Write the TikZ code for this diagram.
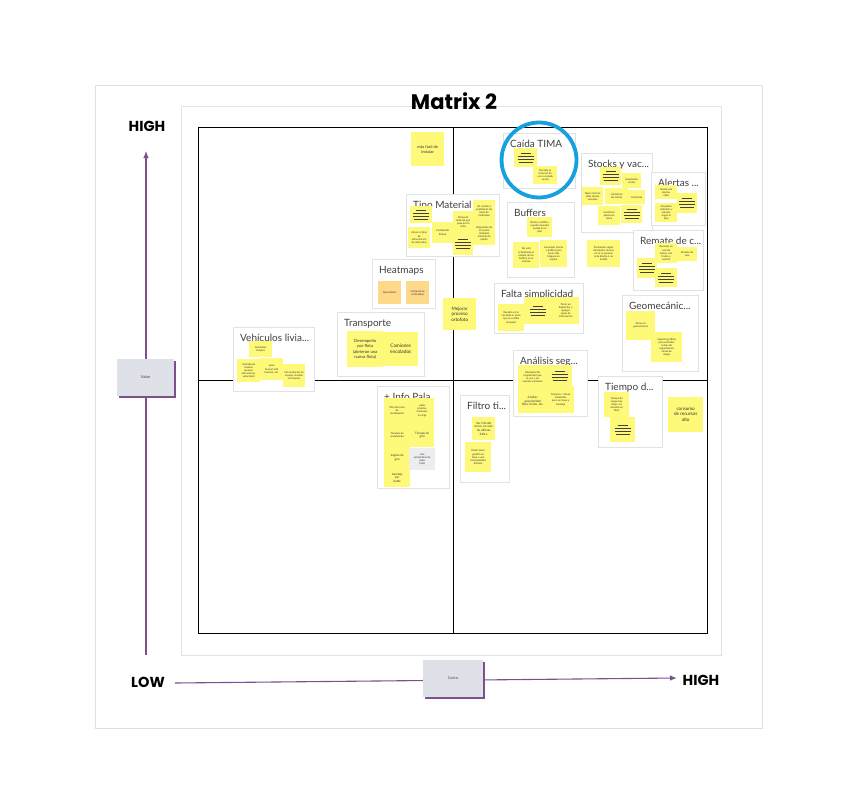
\documentclass[tikz,border=0pt]{standalone}
\usepackage{fontspec}
\setmainfont{Lato}
\newfontfamily\headfont{Poppins}
\usetikzlibrary{positioning,shadows,arrows.meta}

\definecolor{axispurple}{RGB}{125,80,140}
\definecolor{boxgrey}{RGB}{222,225,231}
\definecolor{stickyyellow}{RGB}{255,249,122}
\definecolor{stickyorange}{RGB}{255,217,138}
\definecolor{notegrey}{RGB}{237,237,239}
\definecolor{framegrey}{RGB}{226,226,229}
\definecolor{outerlav}{RGB}{226,220,236}
\definecolor{ringblue}{RGB}{22,160,224}

\tikzset{
  sticky/.style={fill=stickyyellow, anchor=north west, inner sep=0.5pt, align=center,
    font=\fontsize{2.6}{3.1}\selectfont, text=black!80},
  orange/.style={sticky, fill=stickyorange},
  greynote/.style={sticky, fill=notegrey},
  groupbox/.style={draw=framegrey, fill=white, line width=0.8pt, anchor=north west, inner sep=0pt},
  grouptitle/.style={anchor=base west, inner sep=0pt, text=black!75, font=\fontsize{10}{12}\selectfont},
  axisbox/.style={fill=boxgrey, inner sep=0pt, font=\fontsize{4}{5}\selectfont, text=black!70,
    general shadow={fill=axispurple, shadow xshift=2pt, shadow yshift=-2pt}},
  axislabel/.style={inner sep=0pt, font=\headfont\bfseries\fontsize{14.5}{16}\selectfont},
  axis/.style={axispurple, line width=1.1pt}
}

% sticky note: [style](name)(x,y of top left)(width,height){text}
\def\note[#1](#2)(#3,#4)(#5,#6)#7{\node[#1, minimum width=#5pt, minimum height=#6pt] (#2) at (#3,#4) {#7};}
% frame of a cluster, with its title
\def\group(#1)(#2,#3)(#4,#5)#6{\node[groupbox, minimum width=#4pt, minimum height=#5pt] (#1) at (#2,#3) {};
  \node[grouptitle] (#1T) at ([shift={(7pt,-14pt)}]#1.north west) {#6};}
% sticky filled with lines of text too small to read
\def\textlines#1{\foreach \dy/\hw in {-4.5/7,-1.5/8,1.5/8,4.5/5}
  {\draw[line width=0.55pt, black!75] ([shift={(-\hw pt,\dy pt)}]#1.center) -- ([shift={(\hw pt,\dy pt)}]#1.center);}}

\begin{document}
\begin{tikzpicture}[x=1pt, y=-1pt]
\useasboundingbox (0,0) rectangle (868,811);

% outer board and panel
\node[draw=outerlav, line width=0.8pt, anchor=north west, minimum width=667pt, minimum height=643pt, inner sep=0pt] (board) at (95,85) {};
\node[draw=framegrey, fill=white, line width=0.8pt, anchor=north west, minimum width=540pt, minimum height=549pt, inner sep=0pt] (panel) at (181,106) {};
\node[inner sep=0pt, font=\headfont\bfseries\fontsize{21}{23}\selectfont] (title) at (454,101) {Matrix 2};

% quadrants
\node[draw, line width=1.3pt, anchor=north west, minimum width=509pt, minimum height=506pt, inner sep=0pt] (mat) at (198,127) {};
\draw[line width=1.1pt] (mat.north) -- (mat.south);
\draw[line width=1.1pt] (mat.west) -- (mat.east);

% axes
\coordinate (ylo) at (146,655);
\coordinate (yhi) at (146,151);
\draw[axis, ->, >={Latex[length=7pt,width=5.5pt]}] (ylo) -- (yhi);
\node[axisbox, minimum width=57pt, minimum height=37pt] (val) at (145.5,377.5) {Value};
\coordinate (xlo) at (175,683);
\coordinate (xhi) at (677,678);
\draw[axis, ->, >={Latex[length=7pt,width=5.5pt]}] (xlo) -- (xhi);
\node[axisbox, minimum width=60pt, minimum height=37pt] (cost) at (453,678.5) {Costo};
\node[axislabel] (yHigh) at (147,126) {HIGH};
\node[axislabel] (xLow) at (148,682) {LOW};
\node[axislabel] (xHigh) at (701,680) {HIGH};

% loose stickies
\note[sticky, font=\fontsize{4}{5}\selectfont](install)(411,132)(33,34){más fácil de\\instalar}
\note[sticky, font=\fontsize{4.6}{5.8}\selectfont](orto)(443,298)(33,32){Mejorar\\proceso\\ortofoto}
\note[sticky](forma)(587,240)(33,27){Formación según\\del diseño minero,\\ver si se parecen\\este diseño o no\\(malla)}
\note[sticky, font=\fontsize{4.6}{5.8}\selectfont](consumo)(668,397)(35,35){consumo\\de recursos\\alto}

% Caida TIMA
\group(caida)(503,133)(72,55){Caída TIMA}
\note[sticky](cA)(514,148)(23,19){} \textlines{cA}
\note[sticky](cB)(533,166)(24,18){Durante el\\turno (al fin\\ver un estado\\vacío)}
\draw[ringblue, line width=3.8pt] (539,160) circle (37.5);

% Stocks
\group(stock)(581,153)(71,79){Stocks y vac...}
\note[sticky](s1)(600,167)(21,18){} \textlines{s1}
\note[sticky](s2)(622,173)(19,15){Aceptación\\vacíos}
\note[sticky](s3)(582,187)(21,18){Bajar nivel de\\pilas (stock)\\vaciadas}
\note[sticky](s4)(605,188)(23,16){control de\\los stocks}
\note[sticky](s5)(628,190)(17,14){Activarlos}
\note[sticky](s6)(598,206)(22,19){Gestionar\\plazos de\\stock}
\note[sticky](s7)(621,205)(21,18){} \textlines{s7}

% Alertas
\group(alert)(651,172)(54,53){Alertas ...}
\note[sticky](a1)(655,185)(22,14){Niveles de\\alarma,\\mails}
\note[sticky](a2)(677,193)(20,20){} \textlines{a2}
\note[sticky](a3)(655,203)(22,19){Actualizar\\umbrales y\\alarmas\\según el\\plan}

% Remate
\group(remate)(633,230)(70,60){Remate de c...}
\note[sticky](r1)(655,243)(22,20){Remates en\\cola de\\banco, con\\frente y\\control}
\note[sticky](r2)(677,247)(20,14){Remate de\\sala}
\note[sticky](r3)(637,258)(20,20){} \textlines{r3}
\note[sticky](r4)(655,268)(22,19){} \textlines{r4}

% Buffers
\group(buff)(507,202)(67,75){Buffers}
\note[sticky](b1)(527,217)(25,20){Stocks y buffers,\\cuando necesitó\\la pala en el\\plan}
\note[sticky](b2)(513,242)(26,26){No está\\actualizado el\\estado de los\\buffers en el\\sistema}
\note[sticky](b3)(540,240)(27,27){Aumentar stocks\\y buffers para\\tener más\\holgura en\\espera}

% Tipo Material
\group(tipo)(406,194)(93,62){Tipo Material}
\note[sticky](t1)(410,206)(22,17){} \textlines{t1}
\note[sticky](t3)(473,200)(22,22){En cuanto a\\pantalla de los\\tipos de\\materiales}
\note[sticky](t2)(453,211)(20,22){Zonas de\\material que\\pasa por la\\tolva}
\note[sticky](t4)(432,222)(21,21){Cambiando\\(bolsa)}
\note[sticky](t5)(408,227)(22,21){Actuar el plan\\de\\alimentación\\de materiales}
\note[sticky](t6)(473,222)(22,23){Integración de\\la mezcla\\(material\\mineral) de\\planta}
\note[sticky](t7)(453,233)(20,22){} \textlines{t7}

% Heatmaps
\group(heat)(372,259)(63,49){Heatmaps}
\note[orange](h1)(378,281)(23,23){Neumáticos}
\note[orange](h2)(406,281)(23,23){Cómputo de\\contenidos}

% Transporte
\group(trans)(337,312)(87,64){Transporte}
\note[sticky, font=\fontsize{4.2}{5.3}\selectfont](tr1)(347,331)(36,36){Desempeño\\por flota\\(abrieron una\\nueva flota)}
\note[sticky, font=\fontsize{4.8}{6}\selectfont](tr2)(383,332)(35,34){Camiones\\encolados}

% Vehiculos livianos
\group(veh)(233,327)(81,64){Vehículos livia...}
\note[sticky](v1)(249,341)(23,16){Seminales\\livianos}
\note[sticky](v2)(237,359)(23,23){Indicadores\\livianos\\(usados,\\ubicaciones,\\velocidad)}
\note[sticky](v3)(260,358)(23,22){(para\\buscar) info\\livianos, etc.}
\note[sticky](v4)(283,364)(22,23){No conductor en\\equipo, revisión\\de livianos}

% Falta simplicidad
\group(falta)(494,283)(89,50){Falta simplicidad}
\note[sticky](f1)(498,304)(26,27){Reporte en la\\consulta es poco\\que se cambia\\(mapear)}
\note[sticky](f2)(524,297)(28,27){} \textlines{f2}
\note[sticky](f3)(552,297)(27,27){Tener un\\dispatcher y\\agregar\\capas de\\información}

% Geomecanica
\group(geo)(622,295)(76,76){Geomecánic...}
\note[sticky](g1)(626,311)(29,29){Temas en\\geomecánica}
\note[sticky](g2)(651,332)(31,30){Impacto gráficos\\para entender\\temas de\\seguridad en\\zonas de\\riesgo}

% Analisis seg
\group(anal)(513,350)(74,66){Análisis seg...}
\note[sticky](an1)(518,365)(29,24){Manipulación\\(segmentar) que\\se vea y ver\\cuantos camiones}
\note[sticky](an2)(547,365)(25,21){} \textlines{an2}
\note[sticky, font=\fontsize{3}{3.6}\selectfont](an3)(518,389)(29,24){Análisis\\granularidad\\flota, frente, etc.}
\note[sticky](an4)(547,386)(27,27){Tiempos / ritmos\\resultados\\para ver leyes y\\tonelaje}

% Tiempo d
\group(tiempo)(598,376)(64,71){Tiempo d...}
\note[sticky](ti1)(604,392)(25,25){Tiempo de\\carga muy\\largo, ver\\resuelto en\\Alert}
\note[sticky](ti2)(610,417)(25,25){} \textlines{ti2}

% Info Pala
\group(pala)(377,386)(72,102){+ Info Pala}
\note[sticky](p1)(384,398)(26,25){Plan de turno\\de\\rendimiento}
\note[sticky](p2)(410,398)(24,25){palas\\grandes,\\mantener\\la carga}
\note[sticky](p3)(384,423)(26,24){Tiempos de\\aculamiento}
\note[sticky, font=\fontsize{3}{3.6}\selectfont](p4)(410,423)(24,24){Tiempo de\\giro}
\note[sticky, font=\fontsize{3}{3.6}\selectfont](p5)(384,447)(26,21){ángulo de\\giro}
\note[greynote](p6)(409,448)(26,22){más\\estadísticas de\\palas\\(cola)}
\note[sticky, font=\fontsize{3}{3.6}\selectfont](p7)(384,468)(26,19){tonelaje\\por\\balde}

% Filtro tiempo
\group(filtro)(460,395)(49,87){Filtro ti...}
\note[sticky, font=\fontsize{3}{3.6}\selectfont](fi1)(472,417)(23,23){Ver info del\\turno, no solo\\las últimas\\24hrs.}
\note[sticky](fi2)(465,442)(26,30){Poder tener\\gestión en\\base a una\\temporalidad\\distinta}

\end{tikzpicture}
\end{document}
